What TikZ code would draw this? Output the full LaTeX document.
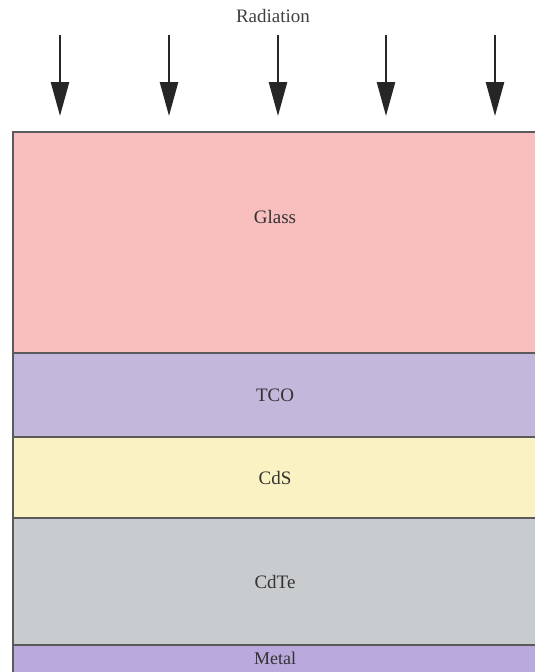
\documentclass[tikz,border=0pt]{standalone}
\usepackage{fontspec}
\setmainfont{Liberation Serif}
\usetikzlibrary{arrows.meta,positioning}
\definecolor{layerpink}{HTML}{F8BFBE}
\definecolor{layerlilac}{HTML}{C3B8DC}
\definecolor{layeryellow}{HTML}{FAF2C2}
\definecolor{layergray}{HTML}{C9CCCF}
\definecolor{layerviolet}{HTML}{B9A9DC}
\definecolor{edgegray}{HTML}{5A5A5A}

\begin{document}
\begin{tikzpicture}[x=1pt,y=-1pt,
        layer/.style={draw=edgegray, line width=1.5pt, rectangle, inner sep=0pt, outer sep=0pt,
            minimum width=524pt, font=\fontsize{19}{22}\selectfont, text=black!80},
        ray/.style={line width=2.6pt, draw=black!85, -{Triangle[length=34pt,width=18pt]}}]
    \useasboundingbox (0,0) rectangle (535,672);
    % incoming light
    \node[font=\fontsize{19}{22}\selectfont, text=black!75] (radiation) at (273,16) {Radiation};
    \foreach \i/\x in {1/60,2/169,3/278,4/386,5/495} {
        \coordinate (top\i) at (\x,35);
        \coordinate (tip\i) at (\x,116);
        \draw[ray] (top\i) -- (tip\i);
    }
    % the cell stack
    \node[layer, fill=layerpink, minimum height=221pt, anchor=north west] (glass) at (13,132) {};
    \node[layer, fill=layerlilac, minimum height=84pt, below=0pt of glass] (tco) {TCO};
    \node[layer, fill=layeryellow, minimum height=81pt, below=0pt of tco] (cds) {CdS};
    \node[layer, fill=layergray, minimum height=127pt, below=0pt of cds] (cdte) {CdTe};
    \node[layer, fill=layerviolet, minimum height=40pt, below=0pt of cdte] (metal) {};
    \node[font=\fontsize{19}{22}\selectfont, text=black!80] (glasslabel) at ([yshift=26pt]glass.center) {Glass};
    \node[font=\fontsize{18}{21}\selectfont, text=black!80] (metallabel) at (275,658) {Metal};
\end{tikzpicture}
\end{document}
